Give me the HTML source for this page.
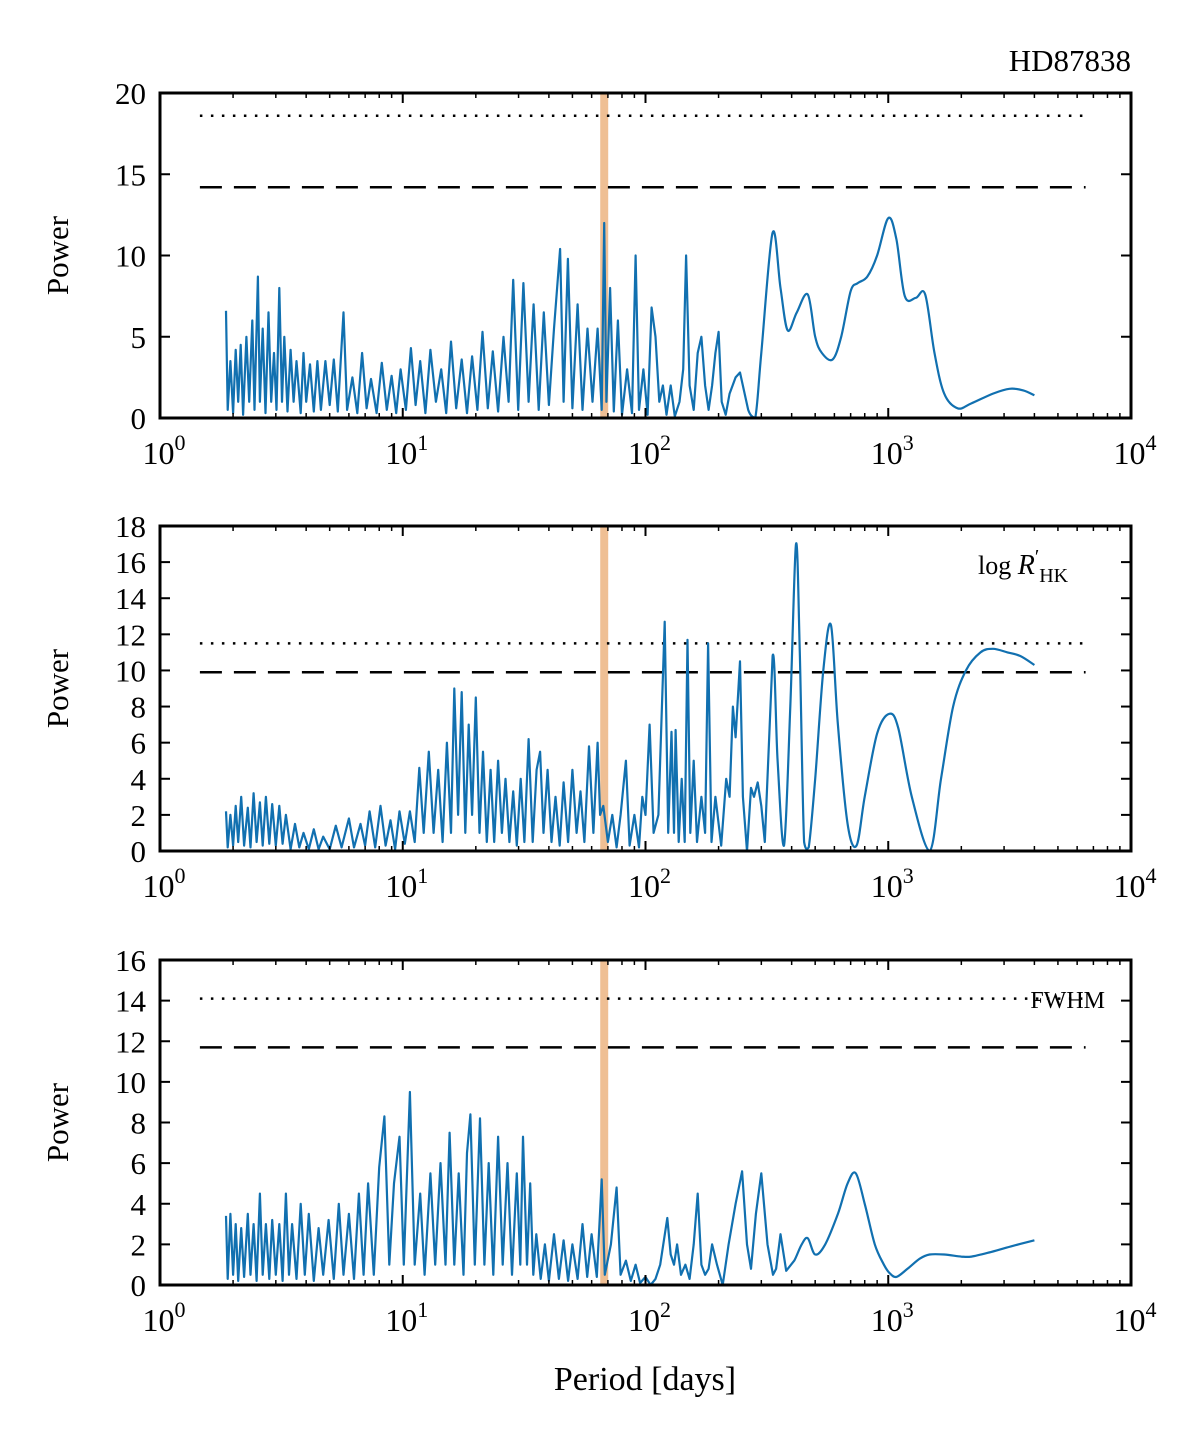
<!DOCTYPE html>
<html><head><meta charset="utf-8"><style>
html,body{margin:0;padding:0;background:#fff;}
svg text{font-family:"Liberation Serif",serif;fill:#000;}
</style></head><body>
<svg id="chart" width="1200" height="1444" viewBox="0 0 1200 1444" xmlns="http://www.w3.org/2000/svg">
<text x="1131" y="71" text-anchor="end" font-size="31">HD87838</text>
<text x="645" y="1390" text-anchor="middle" font-size="34">Period [days]</text>
</svg>
<script>
// ---------- data ----------
const xTickExps = [0, 1, 2, 3, 4];
const markedPeriod = 67.6;

const rvPeriods = [1.87,1.9,1.95,2.0,2.05,2.1,2.15,2.2,2.27,2.33,2.4,2.45,2.53,2.58,2.65,2.72,2.8,2.87,2.95,3.02,3.1,3.18,3.25,3.35,3.45,3.55,3.65,3.8,3.9,4.0,4.15,4.3,4.45,4.6,4.8,5.0,5.2,5.4,5.7,5.9,6.2,6.5,6.8,7.1,7.4,7.8,8.2,8.6,9.0,9.4,9.8,10.3,10.8,11.3,11.8,12.4,13,13.7,14.4,15.1,15.8,16.6,17.5,18.4,19.3,20.3,21.3,22.4,23.5,24.7,26,27.3,28.5,29.9,31.4,33,34.6,36.3,38.1,40,42,44.5,46,47.9,50,52.5,55,57.7,60.5,63.5,66,67.6,69,71.5,74,77,80,84,88,91,94,98,102,106,110,114,118,122,127,132,138,143,147,152,158,164,170,176,182,188,194,200,206,214,222,235,245,265,283,300,334,360,385,420,466,500,533,590,640,700,749,820,900,1000,1080,1170,1300,1420,1550,1700,1930,2200,2700,3160,3600,4000];
const rvPower = [6.6,0.5,3.5,0.3,4.2,1,4.5,0.2,5,1,6,0.5,8.7,1,5.5,0.3,6.5,1,4,0.5,8,1,5,0.4,4.2,1,3.5,0.3,4,1,3.3,0.4,3.5,0.5,3.5,0.8,3.6,0.4,6.5,0.5,2.5,0.3,4,0.6,2.4,0.3,3.4,0.5,2.6,0.3,3,0.5,4.3,0.8,3.5,0.3,4.2,1,3,0.3,4.7,0.6,3.6,0.3,3.8,0.5,5.3,0.6,4.1,0.4,5,1,8.5,0.5,8.3,1,7,0.5,6.5,0.8,5.5,10.4,1,9.8,0.6,7,0.5,5.5,1,5.5,0.5,12,1,8,0.4,6,0.2,3,0.3,10,0.5,3,0.2,6.8,5,1,2,0.2,2,0.1,1,3,10,2,0.5,4,5,2,0.5,2,4,5.3,1,0.2,1.5,2.5,2.8,0.5,0,4,11.4,8,5.4,6.5,7.6,5,4,3.6,5,7.8,8.3,8.7,10,12.3,11,7.5,7.4,7.6,4,1.5,0.6,0.9,1.5,1.8,1.7,1.4];
const rvThresholds = [18.6, 14.2];

const rhkPeriods = [1.87,1.9,1.95,2.0,2.05,2.1,2.16,2.22,2.3,2.36,2.43,2.5,2.58,2.65,2.73,2.82,2.9,3.0,3.1,3.2,3.3,3.45,3.6,3.75,3.9,4.1,4.3,4.5,4.7,5.0,5.3,5.6,6.0,6.3,6.7,7,7.3,7.7,8.1,8.5,8.9,9.3,9.7,10.2,10.7,11.2,11.7,12.2,12.8,13.4,14,14.6,15.2,15.8,16.3,16.9,17.5,18.1,18.7,19.3,20,20.7,21.4,22.2,23,23.8,24.7,25.6,26.5,27.5,28.5,29.5,30.6,31.7,33,34.3,35.6,36.8,38,39.5,41,42.6,44.3,46,48,50,52,54,56,58.5,61,63.5,65,67,70,73,76,79,83,86,90,94,97,100,104,108,113,120,124,128,131,133,137,141,145,149,153,158,163,170,176,181,187,194,205,215,222,229,235,245,252,262,272,280,290,300,310,334,350,372,395,417,432,450,470,500,540,581,620,680,740,800,900,1010,1100,1250,1480,1650,1850,2090,2400,2700,3100,3500,4000];
const rhkPower = [2.2,0.2,2,0.3,2.5,0.5,3,0.3,2.4,0.2,3.2,0.5,2.7,0.3,3,0.4,2.6,0.3,2.5,0.4,2,0.1,1.5,0.2,1,0.1,1.2,0.1,0.8,0.1,1.4,0.2,1.8,0.2,1.5,0.3,2.2,0.2,2.5,0.3,1.7,0.1,2.2,0.4,2.2,0.5,4.6,1,5.5,1,4.5,0.5,6,1,9,2,8.8,1,7,2,8.5,1,5.5,0.5,4.5,0.5,5,1,4,0.5,3.3,0.3,4,0.5,6.2,0.5,4.5,5.5,1,4.5,0.5,3,0.3,3.8,0.5,4.5,1,3.3,0.5,5.8,1,6,2,2.5,0.5,2,0.2,2,5,0.3,2,0.2,3,2,7,1,2,12.7,1,6.6,1,6.7,0.5,4,0.5,11.7,1,5,0.5,3,1,11.5,0.5,3,0.3,4,3,8,6.3,10.5,3,0,3.5,3,3.8,2.5,0.5,10.8,5,0.3,8,17,11,0.5,0.2,4,10,12.5,7,1.5,0.3,3,6.5,7.6,6.8,3,0,4,8,10,11,11.2,11,10.8,10.3];
const rhkThresholds = [11.5, 9.9];

const fwhmPeriods = [1.87,1.9,1.95,2.0,2.05,2.1,2.16,2.22,2.3,2.36,2.43,2.5,2.58,2.65,2.73,2.82,2.9,3.0,3.1,3.2,3.3,3.4,3.5,3.65,3.8,3.95,4.1,4.3,4.5,4.7,4.95,5.2,5.45,5.7,6,6.3,6.6,6.9,7.2,7.6,8,8.4,8.8,9.2,9.7,10.1,10.7,11.2,11.8,12.3,13,13.6,14.3,15,15.6,16.3,17,17.8,18.4,19,19.8,20.8,21.7,22.6,23.6,24.7,25.8,27,28.2,29.5,30.5,31.3,32.5,33.5,34.5,35.5,37,38.5,40,42,44,46,48,50,52.5,55,57.5,60,63,66,68,72,76,79,83,87,91,95,100,105,110,115,123,127,131,135,140,146,152,158,164,170,176,182,188,197,208,220,235,250,262,272,285,300,318,335,345,360,380,410,440,466,500,550,620,680,735,800,880,960,1010,1080,1200,1350,1480,1700,2000,2200,2600,3200,4000];
const fwhmPower = [3.4,0.3,3.5,0.5,3,0.2,2.8,0.4,3.5,0.5,3,0.2,4.5,0.5,3,0.3,3.2,0.5,3,0.2,4.5,0.5,3,0.3,4,0.5,3.5,0.2,2.8,0.5,3.2,0.3,4,0.5,3.5,0.3,4.5,0.5,5,0.5,5.8,8.3,1,5,7.3,1,9.5,1,4.5,0.5,5.5,1,6,1,7.5,1,5.5,0.5,6.5,8.4,1,8.2,1,6,0.5,7.3,1,6,0.5,5.5,1,7.3,1,5,0.5,2.5,0.3,2,0.2,2.5,0.3,2.2,0.2,2,0.3,3,0.4,2.5,0.4,5.2,0.5,2,4.8,0.5,1.2,0.2,1,0.1,0.4,0,0.3,1,3.3,1.5,1,2,0.5,1,0.3,2,4.5,1,0.5,0.8,2,1,0,2,4,5.6,2,0.8,3.5,5.5,2,0.5,0.8,2.5,0.7,1.2,2,2.3,1.5,2,3.5,5,5.5,4,2,1,0.6,0.4,0.8,1.3,1.5,1.5,1.4,1.4,1.6,1.9,2.2];
const fwhmThresholds = [14.1, 11.7];

const panels = [
  {name:'rv', periods:rvPeriods, power:rvPower, thr:rvThresholds, top:93, bottom:418, ymax:20, step:5, smoothFrom:250, label:null},
  {name:'rhk', periods:rhkPeriods, power:rhkPower, thr:rhkThresholds, top:526, bottom:851, ymax:18, step:2, smoothFrom:330, label:'rhk'},
  {name:'fwhm', periods:fwhmPeriods, power:fwhmPower, thr:fwhmThresholds, top:960, bottom:1285, ymax:16, step:2, smoothFrom:400, label:'FWHM'}
];

// ---------- drawing ----------
const NS = 'http://www.w3.org/2000/svg';
const svg = document.getElementById('chart');
const X0 = 160, X1 = 1131;
function xScale(p){ return X0 + Math.log10(p) / 4 * (X1 - X0); }
function mk(tag, attrs, parent){
  const e = document.createElementNS(NS, tag);
  for (const k in attrs) e.setAttribute(k, attrs[k]);
  (parent || svg).appendChild(e);
  return e;
}
function buildPath(P, smoothStart, yMaxPx){
  let d = 'M' + P[0][0].toFixed(1) + ',' + P[0][1].toFixed(1);
  for (let i = 1; i < P.length; i++) {
    if (i > smoothStart) {
      const p0 = P[i-2] || P[i-1], p1 = P[i-1], p2 = P[i], p3 = P[i+1] || P[i];
      const c1x = p1[0] + (p2[0]-p0[0])/6, c1y = Math.min(yMaxPx, p1[1] + (p2[1]-p0[1])/6);
      const c2x = p2[0] - (p3[0]-p1[0])/6, c2y = Math.min(yMaxPx, p2[1] - (p3[1]-p1[1])/6);
      d += 'C' + c1x.toFixed(1)+','+c1y.toFixed(1)+' '+c2x.toFixed(1)+','+c2y.toFixed(1)+' '+p2[0].toFixed(1)+','+p2[1].toFixed(1);
    } else {
      d += 'L' + P[i][0].toFixed(1) + ',' + P[i][1].toFixed(1);
    }
  }
  return d;
}

panels.forEach((pn) => {
  const g = mk('g', {});
  
  
  const yScale = v => pn.bottom - v / pn.ymax * (pn.bottom - pn.top);

  const m = mk('line', {x1:xScale(markedPeriod), x2:xScale(markedPeriod), y1:pn.top, y2:pn.bottom, stroke:'#efbf94', 'stroke-width':8}, g);
  
  

  const th1 = mk('line', {x1:xScale(1.46), x2:xScale(6500), y1:yScale(pn.thr[0]), y2:yScale(pn.thr[0]), stroke:'#000', 'stroke-width':2.5, 'stroke-dasharray':'2.5 8.5'}, g);
  
  
  const th2 = mk('line', {x1:xScale(1.46), x2:xScale(6500), y1:yScale(pn.thr[1]), y2:yScale(pn.thr[1]), stroke:'#000', 'stroke-width':2.5, 'stroke-dasharray':'22 12'}, g);
  
  

  const P = pn.periods.map((p, i) => [xScale(p), yScale(pn.power[i])]);
  let smoothStart = pn.periods.findIndex(p => p >= pn.smoothFrom);
  if (smoothStart < 0) smoothStart = P.length;
  const line = mk('path', {d:buildPath(P, smoothStart, pn.bottom - 1), fill:'none', stroke:'#1170b0', 'stroke-width':2.2, 'stroke-linejoin':'round'}, g);
  
  

  const fr = mk('rect', {x:X0, y:pn.top, width:X1 - X0, height:pn.bottom - pn.top, fill:'none', stroke:'#000', 'stroke-width':3}, g);
  
  

  xTickExps.forEach(e => {
    const x = xScale(Math.pow(10, e));
    mk('line', {x1:x, x2:x, y1:pn.bottom, y2:pn.bottom - 10, stroke:'#000', 'stroke-width':2}, g);
    mk('line', {x1:x, x2:x, y1:pn.top, y2:pn.top + 10, stroke:'#000', 'stroke-width':2}, g);
    const t = mk('text', {x:x + 4, y:pn.bottom + 46, 'text-anchor':'middle', 'font-size':32}, g);
    
    
    t.textContent = '10';
    const s = mk('tspan', {dy:-14, 'font-size':22}, t);
    s.textContent = String(e);
    if (e < 4) {
      for (let k = 2; k <= 9; k++) {
        const xm = xScale(k * Math.pow(10, e));
        mk('line', {x1:xm, x2:xm, y1:pn.bottom, y2:pn.bottom - 5, stroke:'#000', 'stroke-width':1.5}, g);
        mk('line', {x1:xm, x2:xm, y1:pn.top, y2:pn.top + 5, stroke:'#000', 'stroke-width':1.5}, g);
      }
    }
  });

  for (let v = 0; v <= pn.ymax; v += pn.step) {
    const y = yScale(v);
    mk('line', {x1:X0, x2:X0 + 10, y1:y, y2:y, stroke:'#000', 'stroke-width':2}, g);
    mk('line', {x1:X1, x2:X1 - 10, y1:y, y2:y, stroke:'#000', 'stroke-width':2}, g);
    const t = mk('text', {x:146, y:y + 11, 'text-anchor':'end', 'font-size':31}, g);
    
    
    t.textContent = String(v);
  }

  const cy = (pn.top + pn.bottom) / 2;
  const yt = mk('text', {x:68, y:cy, 'text-anchor':'middle', 'font-size':31, transform:'rotate(-90 68 ' + cy + ')'}, g);
  
  
  yt.textContent = 'Power';

  if (pn.label === 'rhk') {
    const lt = mk('text', {x:978, y:pn.top + 48, 'font-size':26}, g);
    
    
    lt.textContent = 'log ';
    const r = mk('tspan', {'font-style':'italic', 'font-size':28}, lt); r.textContent = 'R';
    const pr = mk('tspan', {dy:-11, 'font-size':20}, lt); pr.textContent = '′';
    const sb = mk('tspan', {dy:19, 'font-size':20}, lt); sb.textContent = 'HK';
  } else if (pn.label) {
    const lt = mk('text', {x:1105, y:pn.top + 48, 'text-anchor':'end', 'font-size':24}, g);
    
    
    lt.textContent = pn.label;
  }
});
</script>
</body></html>
